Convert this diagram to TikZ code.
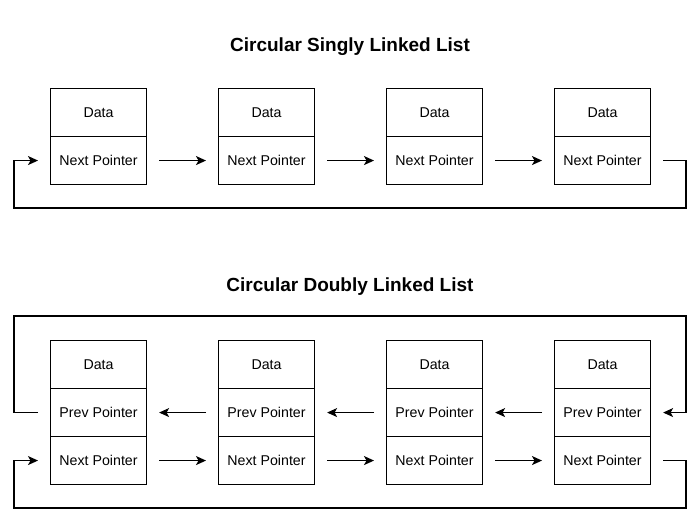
\documentclass[tikz,border=0pt]{standalone}
\usepackage{fontspec}
\setmainfont{Liberation Sans}
\usetikzlibrary{arrows.meta}
\begin{document}
\begin{tikzpicture}[x=1pt,y=-1pt,
  cell/.style={draw,line width=1.1pt,minimum width=96pt,minimum height=48pt,inner sep=0pt,font=\fontsize{14.2}{16}\selectfont,anchor=north west},
  title/.style={font=\bfseries\fontsize{19}{22}\selectfont},
  link/.style={line width=1.1pt,-{Stealth[length=10pt,width=9pt,inset=2.5pt]}},
  loop/.style={line width=1.1pt,-{Stealth[length=10pt,width=9pt,inset=2.5pt]}}]
\useasboundingbox (0,0) rectangle (700,520);
\node[title] (t1) at (350,47) {Circular Singly Linked List};
\node[title] (t2) at (350,287) {Circular Doubly Linked List};
\foreach \i/\x in {1/50,2/218,3/386,4/554}{
  \node[cell] (d\i) at (\x,88) {Data};
  \node[cell] (n\i) at (\x,136) {Next Pointer};
  \node[cell] (D\i) at (\x,340) {Data};
  \node[cell] (P\i) at (\x,388) {Prev Pointer};
  \node[cell] (N\i) at (\x,436) {Next Pointer};
}
\foreach \a/\b in {1/2,2/3,3/4}{
  \draw[link] ([xshift=12pt]n\a.east) -- ([xshift=-12pt]n\b.west);
  \draw[link] ([xshift=-12pt]P\b.west) -- ([xshift=12pt]P\a.east);
  \draw[link] ([xshift=12pt]N\a.east) -- ([xshift=-12pt]N\b.west);
}
\coordinate (r1) at (686,208);
\coordinate (l1) at (14,208);
\draw[loop] ([xshift=12pt]n4.east) -| (r1) -- (l1) |- ([xshift=-12pt]n1.west);
\coordinate (l2) at (14,316);
\coordinate (r2) at (686,316);
\draw[loop] ([xshift=-12pt]P1.west) -| (l2) -- (r2) |- ([xshift=12pt]P4.east);
\coordinate (r3) at (686,508);
\coordinate (l3) at (14,508);
\draw[loop] ([xshift=12pt]N4.east) -| (r3) -- (l3) |- ([xshift=-12pt]N1.west);
\end{tikzpicture}
\end{document}
